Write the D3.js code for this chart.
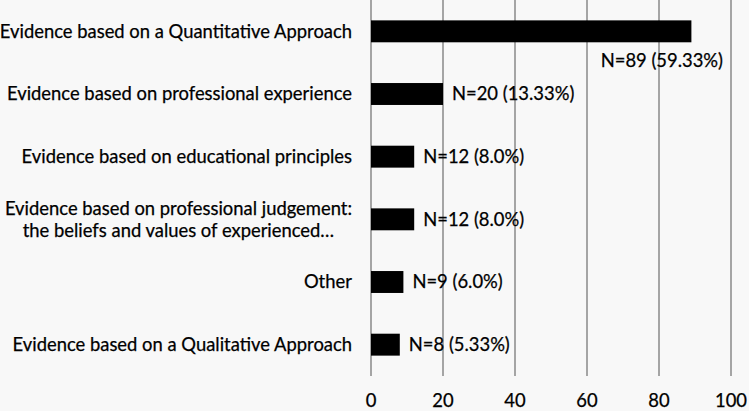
<!DOCTYPE html>
<html>
<head>
<meta charset="utf-8">
<script src="https://cdn.jsdelivr.net/npm/d3@7"></script>
<style>
  body { margin: 0; background: #f8f8f8; }
  svg { display: block; }
  text { font-family: Lato, "Open Sans", sans-serif; fill: #000; stroke: #000; stroke-width: 0.25px; }
</style>
</head>
<body>
<script>
// categorias y valores
const categories = [
  "Evidence based on a Quantitative Approach",
  "Evidence based on professional experience",
  "Evidence based on educational principles",
  "Evidence based on professional judgement:|the beliefs and values of experienced…",
  "Other",
  "Evidence based on a Qualitative Approach"
]
const counts = [89, 20, 12, 12, 9, 8]
const percents = ["59.33%", "13.33%", "8.0%", "8.0%", "6.0%", "5.33%"]
const xTicks = [0, 20, 40, 60, 80, 100]

const W = 749, H = 411
const margin = {top: 0, right: 18, bottom: 35, left: 371}
const fs = "18.4px"

let svg = d3.select("body")
        .append("svg")
        .attr("width", W)
        .attr("height", H)

let x = d3.scaleLinear()
        .domain([0, 100])
        .range([margin.left, W - margin.right])

let y = d3.scaleBand()
        .domain(categories)
        .range([margin.top, H - margin.bottom])
        .paddingInner(0.65)
        .paddingOuter(0.325)

// lineas de la rejilla
svg.append("g")
        .selectAll("line")
        .data(xTicks)
        .join("line")
        .attr("x1", d => x(d))
        .attr("x2", d => x(d))
        .attr("y1", margin.top)
        .attr("y2", H - margin.bottom)
        .style("stroke", "#8a8a8a")
        .style("stroke-width", 1.5)

// etiquetas del eje x
svg.append("g")
        .selectAll("text")
        .data(xTicks)
        .join("text")
        .attr("x", d => x(d))
        .attr("y", H - 4)
        .attr("text-anchor", "middle")
        .style("font-size", fs)
        .text(d => d)

// barras
svg.append("g")
        .selectAll("rect")
        .data(counts)
        .join("rect")
        .attr("x", x(0))
        .attr("y", (d, i) => y(categories[i]))
        .attr("width", d => x(d) - x(0))
        .attr("height", y.bandwidth())
        .attr("fill", "#000")

// etiquetas de categorias
let catLabels = svg.append("g")
        .selectAll("text")
        .data(categories)
        .join("text")
        .attr("text-anchor", "middle")
        .style("font-size", fs)

catLabels.each(function(d) {
    let lines = d.split("|")
    let t = d3.select(this)
    let cy = y(d) + y.bandwidth() / 2
    t.selectAll("tspan")
        .data(lines)
        .join("tspan")
        .attr("x", 0)
        .attr("y", (l, j) => cy + (j - (lines.length - 1) / 2) * 22)
        .attr("dy", "0.35em")
        .text(l => l)
    // alinear a la derecha el bloque, lineas centradas
    let w = this.getBBox().width
    t.selectAll("tspan").attr("x", 352 - w / 2)
})

// etiquetas de valores
svg.append("g")
        .selectAll("text")
        .data(counts)
        .join("text")
        .style("font-size", fs)
        .attr("text-anchor", d => x(d) + 140 > W ? "end" : "start")
        .attr("x", d => x(d) + 140 > W ? W - 26 : x(d) + 9)
        .attr("y", (d, i) => {
            let cy = y(categories[i]) + y.bandwidth() / 2
            return x(d) + 140 > W ? cy + 29 : cy
        })
        .attr("dy", "0.35em")
        .text((d, i) => "N=" + d + " (" + percents[i] + ")")
</script>
</body>
</html>
